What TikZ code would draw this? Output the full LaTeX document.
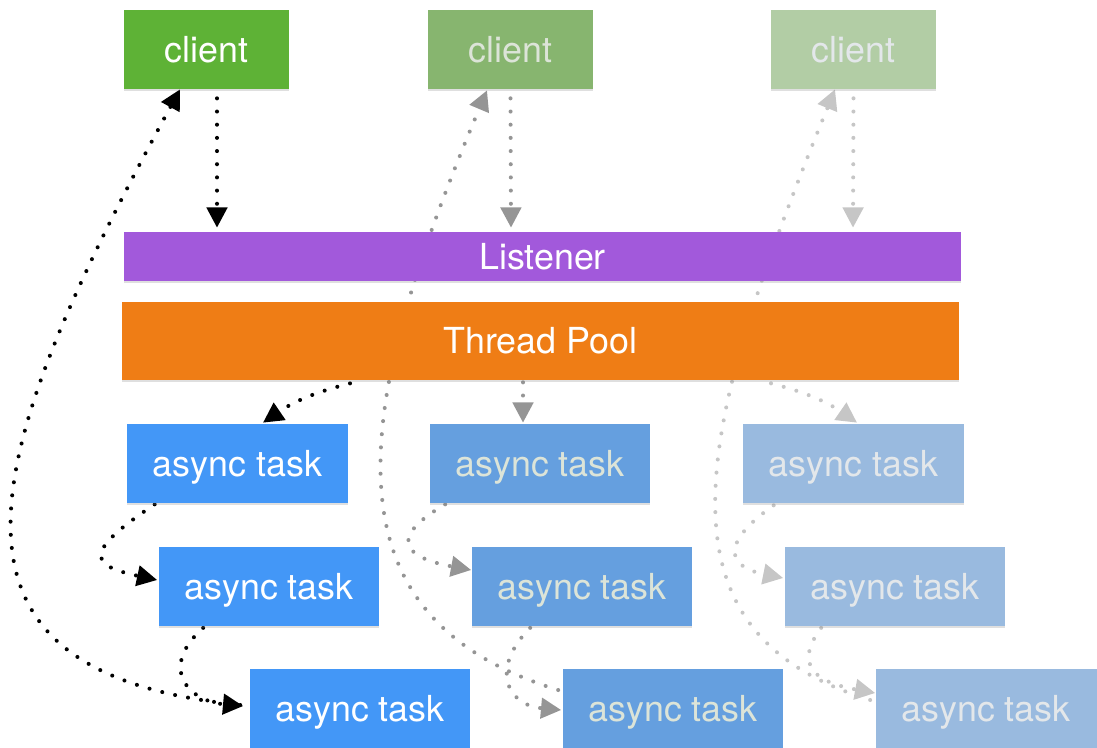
\documentclass[tikz,border=0pt]{standalone}
\usepackage{fontspec}
\setmainfont{TeX Gyre Heros}
\usetikzlibrary{arrows.meta,calc,shadows}
\pgfdeclarelayer{back}
\pgfsetlayers{back,main}
\definecolor{clientA}{HTML}{5EB236}
\definecolor{clientB}{HTML}{87B56F}
\definecolor{clientC}{HTML}{B2CDA5}
\definecolor{listenerFill}{HTML}{A259DB}
\definecolor{poolFill}{HTML}{EF7D15}
\definecolor{taskA}{HTML}{4397F7}
\definecolor{taskB}{HTML}{659FDF}
\definecolor{taskC}{HTML}{99BADF}
\definecolor{textB}{HTML}{DCE4D8}
\definecolor{textC}{HTML}{E3E7EA}
\definecolor{flowB}{HTML}{959595}
\definecolor{flowC}{HTML}{C6C6C6}

\begin{document}
\begin{tikzpicture}
[x=0.02cm,y=-0.02cm,
  boxDecorate/.style={shape=rectangle,inner sep=0pt,minimum height=1.58cm,%
    font=\fontsize{20.4}{24}\selectfont,
    drop shadow={shadow xshift=0pt,shadow yshift=-1.2pt,opacity=0.25}},
  clientDecorate/.style={boxDecorate,minimum width=3.3cm},
  taskDecorate/.style={boxDecorate,minimum width=4.42cm,text depth=0pt},
  barDecorate/.style={boxDecorate,minimum width=16.74cm},
  lineDecorate/.style={line width=2.3pt,line cap=round,dash pattern=on 0pt off 7.5pt,%
    -{Triangle[length=11.5pt,width=11.5pt]}}]
\useasboundingbox (0,0) rectangle (1097,747);
%% clients
\node (client1) at (206.5,49.5) [clientDecorate,fill=clientA,text=white] {client};
\node (client2) at (510.5,49.5) [clientDecorate,fill=clientB,text=textB] {client};
\node (client3) at (853.5,49.5) [clientDecorate,fill=clientC,text=textC] {client};
%% listener and pool
\node (listener) at (542.5,256.5) [barDecorate,minimum height=0.98cm,fill=listenerFill,text=white] {Listener};
\node (pool) at (540.5,341) [barDecorate,minimum height=1.56cm,fill=poolFill,text=white] {Thread Pool};
%% async tasks
\node (task1a) at (237.5,463.5) [taskDecorate,fill=taskA,text=white] {async task};
\node (task1b) at (269,586) [taskDecorate,fill=taskA,text=white] {async task};
\node (task1c) at (360,708) [taskDecorate,fill=taskA,text=white] {async task};
\node (task2a) at (540,463.5) [taskDecorate,fill=taskB,text=textB] {async task};
\node (task2b) at (582,586) [taskDecorate,fill=taskB,text=textB] {async task};
\node (task2c) at (673,708) [taskDecorate,fill=taskB,text=textB] {async task};
\node (task3a) at (853.5,463.5) [taskDecorate,fill=taskC,text=textC] {async task};
\node (task3b) at (895,586) [taskDecorate,fill=taskC,text=textC] {async task};
\node (task3c) at (986,708) [taskDecorate,fill=taskC,text=textC] {async task};

\begin{pgfonlayer}{back}
%% requests
\path
($(client1.south)+(10.5,9)$) edge[lineDecorate,black] ($(listener.north)+(-325.5,-4)$)
($(client2.south)+(0,9)$) edge[lineDecorate,flowB] ($(listener.north)+(-31.5,-4)$)
($(client3.south)+(0,9)$) edge[lineDecorate,flowC] ($(listener.north)+(310.5,-4)$);
%% pool to first task
\path
($(pool.south)+(-190.5,3)$) edge[lineDecorate,black,bend right=10] ($(task1a.north)+(25.5,-1)$)
($(pool.south)+(-17.5,2)$) edge[lineDecorate,flowB] ($(task2a.north)+(-17,-1)$)
($(pool.south)+(230.5,3)$) edge[lineDecorate,flowC,bend left=10] ($(task3a.north)+(3.5,-1)$);
%% task to task
\draw[lineDecorate,black] ($(task1a.south west)+(28,1)$) .. controls +(-70,47) and +(-70,-15) .. ($(task1b.west)+(-1,-6)$);
\draw[lineDecorate,black] ($(task1b.south west)+(45,2)$) .. controls +(-45,40) and +(-55,-5) .. ($(task1c.west)+(-6,-2)$);
\draw[lineDecorate,flowB] ($(task2a.south west)+(16,1)$) .. controls +(-60,35) and +(-65,-12) .. ($(task2b.west)+(0,-16)$);
\draw[lineDecorate,flowB] ($(task2b.south west)+(59,2)$) .. controls +(-40,40) and +(-55,-5) .. ($(task2c.west)+(-1,2)$);
\draw[lineDecorate,flowC] ($(task3a.south west)+(31,2)$) .. controls +(-50,35) and +(-60,-12) .. ($(task3b.west)+(-1,-8)$);
\draw[lineDecorate,flowC] ($(task3b.south west)+(37,2)$) .. controls +(-30,40) and +(-55,-10) .. ($(task3c.west)+(0,-15)$);
%% responses
\draw[lineDecorate,black] ($(task1c.west)+(-9,-3)$) .. controls +(-328,-33) and +(-201,369) .. ($(client1.south)+(-26.5,0)$);
\draw[lineDecorate,flowB] ($(task2c.west)+(-4,-18)$) .. controls +(-239,-73.5) and +(-136,322) .. ($(client2.south)+(-23.5,1)$);
\draw[lineDecorate,flowC] ($(task3c.west)+(-5,-8)$) .. controls +(-220,-68) and +(-144,352) .. ($(client3.south)+(-18.5,0)$);
\end{pgfonlayer}
\end{tikzpicture}
\end{document}
